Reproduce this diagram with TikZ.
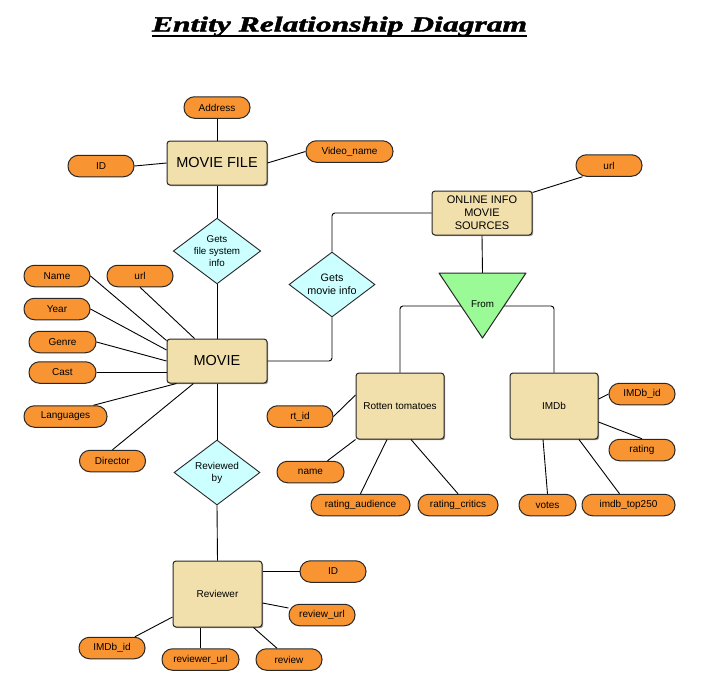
\documentclass[tikz,border=0pt]{standalone}
\usepackage{fontspec}
\usepackage{graphicx}
\setmainfont{Liberation Sans}
\newfontfamily\titlefont[BoldItalicFeatures={FakeBold=1.6}]{Liberation Serif}
\usetikzlibrary{calc,shapes.geometric}
\definecolor{attrorange}{RGB}{248,148,50}
\definecolor{enttan}{RGB}{241,223,172}
\definecolor{relcyan}{RGB}{204,255,255}
\definecolor{trigreen}{RGB}{153,250,150}
\definecolor{edgegray}{RGB}{40,40,40}
\tikzset{
  attr/.style={draw=edgegray, line width=1pt, fill=attrorange, rounded corners=10.5pt,
    minimum width=66pt, minimum height=21.5pt, inner sep=0pt, font=\fontsize{10}{11}\selectfont},
  entity/.style={draw=edgegray, line width=1pt, fill=enttan, rounded corners=3pt,
    inner sep=0pt, align=center},
  rel/.style={draw=edgegray, line width=0.9pt, fill=relcyan, diamond, aspect=1.33,
    inner sep=0pt, align=center, minimum width=86pt, minimum height=65pt},
  conn/.style={draw=black, line width=0.9pt},
  shadowbox/.style={fill=black!40, rounded corners=3pt, draw=none}
}
\begin{document}
\begin{tikzpicture}[x=1pt,y=-1pt]
\useasboundingbox (0,0) rectangle (705,686);
\fill[white] (0,0) rectangle (705,686);

% title
\node[inner sep=0pt, anchor=base] (title) at (339.5,31.5)
  {\resizebox{375pt}{15pt}{\titlefont\bfseries\itshape Entity Relationship Diagram}};
\draw[line width=1.4pt] ([yshift=-4.5pt]title.base west) -- ([yshift=-4.5pt]title.base east);

% shadows of entities
\foreach \cx/\cy/\w/\h in {217/163/100/44, 217/361/100/44, 482/213/100/44, 400/406/88/66, 554/406/88/66, 217.5/594/89/66}
  \fill[shadowbox] (\cx-\w/2+1.2,\cy-\h/2+1.2) rectangle (\cx+\w/2+1.2,\cy+\h/2+1.2);

% entities
\node[entity, minimum width=100pt, minimum height=44pt, font=\fontsize{14.5}{17}\selectfont] (moviefile) at (217,163) {MOVIE FILE};
\node[entity, minimum width=100pt, minimum height=44pt, font=\fontsize{14.5}{17}\selectfont] (movie) at (217,361) {MOVIE};
\node[entity, minimum width=100pt, minimum height=44pt, font=\fontsize{11}{13}\selectfont] (online) at (482,213) {ONLINE INFO\\MOVIE\\SOURCES};
\node[entity, minimum width=88pt, minimum height=66pt, font=\fontsize{10}{12}\selectfont] (rt) at (400,406) {Rotten tomatoes};
\node[entity, minimum width=88pt, minimum height=66pt, font=\fontsize{10}{12}\selectfont] (imdb) at (554,406) {IMDb};
\node[entity, minimum width=89pt, minimum height=66pt, font=\fontsize{10}{12}\selectfont] (reviewer) at (217.5,594) {Reviewer};

% relationships
\node[rel, font=\fontsize{9.8}{12}\selectfont] (gfs) at (217,251) {Gets\\file system\\info};
\node[rel, font=\fontsize{10.8}{13}\selectfont] (gmi) at (332,284.5) {Gets\\movie info};
\node[rel, font=\fontsize{10}{12}\selectfont] (rby) at (217,472.5) {Reviewed\\by};

% attributes
\node[attr] (address) at (217,107.5) {Address};
\node[attr] (fileid) at (101,166) {ID};
\node[attr, minimum width=87pt] (videoname) at (349.5,151.5) {Video\_name};
\node[attr] (onlineurl) at (609,165.5) {url};

\node[attr] (mname) at (57,276) {Name};
\node[attr] (murl) at (140,276) {url};
\node[attr] (myear) at (57,309) {Year};
\node[attr, minimum width=67pt] (mgenre) at (62.5,342) {Genre};
\node[attr, minimum width=67pt] (mcast) at (62.5,372.5) {Cast};
\node[attr, minimum width=83pt] (mlang) at (65.5,416.5) {Languages};
\node[attr] (mdirector) at (112.5,461) {Director};

\node[attr] (rtid) at (300,416.5) {rt\_id};
\node[attr, minimum width=67pt] (rtname) at (310.5,472) {name};
\node[attr, minimum width=99pt] (rtaud) at (360.5,505) {rating\_audience};
\node[attr, minimum width=80pt] (rtcrit) at (458,505) {rating\_critics};

\node[attr] (imdbid) at (642,394) {IMDb\_id};
\node[attr] (imdbrating) at (642,450) {rating};
\node[attr, minimum width=57pt] (votes) at (547.5,505) {votes};
\node[attr, minimum width=93pt] (top250) at (628.5,505) {imdb\_top250};

\node[attr] (revid) at (333,571.5) {ID};
\node[attr] (reviewurl) at (322,615) {review\_url};
\node[attr] (review) at (289,659.5) {review};
\node[attr, minimum width=77pt] (reviewerurl) at (200.5,659.5) {reviewer\_url};
\node[attr] (revimdb) at (112,648) {IMDb\_id};

\coordinate (tritop) at (482.5,273);
\coordinate (branch) at (482.5,306);

% MOVIE FILE
\draw[conn] (address.south) -- (moviefile.north);
\draw[conn] (fileid.east) -- (moviefile.west);
\draw[conn] (moviefile.east) -- (videoname.west);
\draw[conn] (moviefile.south) -- (gfs.north);
\draw[conn] (gfs.south) -- (movie.north);

% MOVIE attributes
\draw[conn] (mname.east) -- ([yshift=-2pt]movie.north west);
\draw[conn] (murl.south) -- ([xshift=28pt]movie.north west);
\draw[conn] (myear.east) -- ([yshift=11pt]movie.west);
\draw[conn] (mgenre.east) -- (movie.west);
\draw[conn] (mcast.east) -- (mcast.east -| movie.west);
\draw[conn] ([xshift=-14pt]mlang.north east) -- ([xshift=10pt]movie.south west);
\draw[conn] (mdirector.north) -- ([xshift=27pt]movie.south west);

% MOVIE - Gets movie info - ONLINE
\draw[conn, rounded corners=3pt] (movie.east) -| (gmi.south);
\draw[conn, rounded corners=3pt] (gmi.north) |- (online.west);
\draw[conn] ([yshift=-2pt]online.north east) -- ([xshift=7pt]onlineurl.south west);
\draw[conn] (online.south) -- (tritop);
\draw[conn, rounded corners=3pt] (rt.north) |- (branch) -| (imdb.north);
\draw[draw=edgegray, line width=1pt, fill=trigreen, line join=round]
  (439,273) -- (526,273) -- (482.5,338) -- cycle;
\node[inner sep=0pt, font=\fontsize{9.8}{11}\selectfont] (from) at (482.5,304) {From};

% Rotten tomatoes
\draw[conn] (rtid.east) -- ([yshift=11pt]rt.west);
\draw[conn] ([xshift=17pt]rtname.north) -- (rt.south west);
\draw[conn] (rtaud.north) -- ([xshift=-13pt]rt.south);
\draw[conn] (rtcrit.north) -- ([xshift=11pt]rt.south);

% IMDb
\draw[conn] ([yshift=7pt]imdb.east) -- (imdbid.west);
\draw[conn] ([yshift=-16pt]imdb.east) -- (imdbrating.north);
\draw[conn] (votes.north) -- ([xshift=-11pt]imdb.south);
\draw[conn] ([xshift=-9pt]top250.north) -- ([xshift=25pt]imdb.south);

% Reviewer
\draw[conn] (movie.south) -- (rby.north);
\draw[conn] (rby.south) -- (reviewer.north);
\draw[conn] (revid.west -| reviewer.east) -- (revid.west);
\draw[conn] ([yshift=-9pt]reviewer.east) -- ([yshift=7pt]reviewurl.west);
\draw[conn] ([xshift=-9pt]reviewer.south east) -- ([xshift=-12pt]review.north);
\draw[conn] (reviewerurl.north) -- (reviewerurl.north |- reviewer.south);
\draw[conn] ([xshift=23pt]revimdb.north) -- ([yshift=-23pt]reviewer.west);
\end{tikzpicture}
\end{document}
